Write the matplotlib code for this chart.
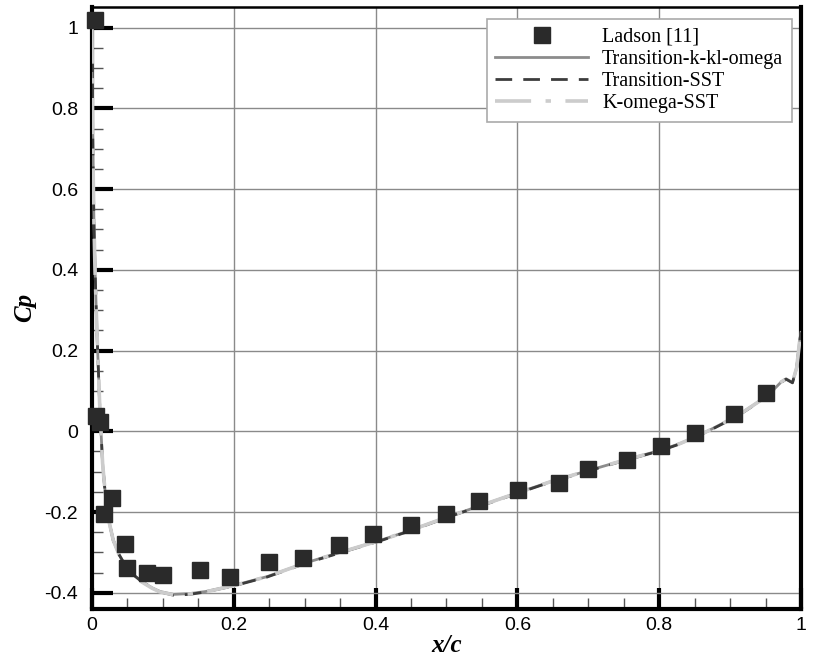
import matplotlib.pyplot as plt
import numpy as np

# experimental pressure coefficient (Ladson)
ladson_x = [0.004, 0.006, 0.012, 0.017, 0.028, 0.047, 0.05, 0.077, 0.1, 0.152, 0.194,
            0.249, 0.298, 0.348, 0.397, 0.45, 0.5, 0.546, 0.601, 0.659, 0.70,
            0.754, 0.802, 0.85, 0.905, 0.951]
ladson_cp = [1.02, 0.038, 0.022, -0.205, -0.165, -0.278, -0.339, -0.352, -0.356, -0.344, -0.362,
             -0.325, -0.315, -0.282, -0.255, -0.232, -0.206, -0.173, -0.146, -0.128, -0.094,
             -0.071, -0.037, -0.005, 0.043, 0.096]

# computed surface Cp, shared chordwise stations
xc = [0.0, 0.0005, 0.001, 0.002, 0.003, 0.004, 0.006, 0.008, 0.011, 0.015, 0.021,
      0.03, 0.038, 0.048, 0.058, 0.07, 0.085, 0.096, 0.115, 0.138, 0.16, 0.2,
      0.247, 0.303, 0.354, 0.407, 0.45, 0.5, 0.55, 0.601, 0.65, 0.689, 0.74,
      0.802, 0.83, 0.859, 0.91, 0.953, 0.972, 0.979, 0.988, 0.994, 0.998, 1.0]
cp_kkl = [1.0, 0.86, 0.74, 0.6, 0.5, 0.42, 0.3, 0.2, 0.06, -0.08, -0.2,
          -0.27, -0.305, -0.335, -0.355, -0.372, -0.388, -0.397, -0.404, -0.402, -0.397, -0.382,
          -0.36, -0.325, -0.298, -0.27, -0.245, -0.213, -0.183, -0.152, -0.123, -0.103, -0.077,
          -0.047, -0.03, -0.008, 0.038, 0.088, 0.122, 0.13, 0.121, 0.158, 0.222, 0.245]
cp_tsst = [1.0, 0.86, 0.74, 0.6, 0.5, 0.42, 0.3, 0.2, 0.06, -0.08, -0.2,
           -0.27, -0.305, -0.335, -0.355, -0.372, -0.388, -0.398, -0.406, -0.404, -0.398, -0.383,
           -0.361, -0.326, -0.299, -0.271, -0.246, -0.214, -0.184, -0.153, -0.124, -0.104, -0.078,
           -0.048, -0.031, -0.009, 0.037, 0.087, 0.121, 0.129, 0.12, 0.157, 0.221, 0.245]
cp_sst = [1.0, 0.86, 0.74, 0.6, 0.5, 0.42, 0.3, 0.2, 0.06, -0.08, -0.2,
          -0.27, -0.305, -0.335, -0.356, -0.373, -0.389, -0.398, -0.405, -0.403, -0.398, -0.382,
          -0.36, -0.325, -0.298, -0.27, -0.245, -0.213, -0.183, -0.152, -0.123, -0.103, -0.077,
          -0.047, -0.03, -0.008, 0.038, 0.088, 0.122, 0.13, 0.121, 0.158, 0.222, 0.245]

plt.rcParams['font.family'] = ['Liberation Sans', 'DejaVu Sans']

fig = plt.figure(figsize=(8.14, 6.59), dpi=100)
ax = fig.add_axes([0.113, 0.076, 0.871, 0.914])

ax.plot(xc, cp_kkl, '-', color='#8c8c8c', lw=2.0, label='Transition-k-kl-omega', zorder=3)
ax.plot(xc, cp_tsst, '--', color='#3c3c3c', lw=2.0, dashes=(6, 4), label='Transition-SST', zorder=4)
ax.plot(xc, cp_sst, '-.', color='#cccccc', lw=2.6, dashes=(10, 4, 1.5, 4),
        label='K-omega-SST', zorder=5)
ax.plot(ladson_x, ladson_cp, 's', color='#2a2a2a', ms=11, mec='#2a2a2a',
        ls='none', label='Ladson [11]', zorder=6, clip_on=False)

ax.set_xlim(0, 1)
ax.set_ylim(-0.44, 1.052)
ax.set_xticks(np.arange(0, 1.01, 0.2))
ax.set_xticklabels(['0', '0.2', '0.4', '0.6', '0.8', '1'])
ax.set_yticks(np.arange(-0.4, 1.01, 0.2))
ax.set_yticklabels(['-0.4', '-0.2', '0', '0.2', '0.4', '0.6', '0.8', '1'])
ax.set_xticks(np.arange(0, 1.001, 0.05), minor=True)
ax.set_yticks(np.arange(-0.4, 1.001, 0.05), minor=True)

ax.grid(True, which='major', color='#8a8a8a', lw=1.0)
ax.set_axisbelow(True)
ax.tick_params(which='major', direction='in', length=15, width=3, labelsize=14,
               colors='black')
ax.tick_params(axis='x', which='major', pad=6)
ax.tick_params(axis='y', which='major', pad=10)
ax.tick_params(which='minor', direction='in', length=8, width=1, color='#555555')
for side in ['left', 'bottom', 'right']:
    ax.spines[side].set_linewidth(3)
ax.spines['top'].set_linewidth(1.8)

ax.set_xlabel('x/c', family='Liberation Serif', style='italic', weight='bold',
              fontsize=18, labelpad=0)
ax.set_ylabel('Cp', family='Liberation Serif', style='italic', weight='bold',
              fontsize=18, labelpad=6)

handles, labels = ax.get_legend_handles_labels()
order = [3, 0, 1, 2]
leg = ax.legend([handles[i] for i in order], [labels[i] for i in order],
                loc='upper right', bbox_to_anchor=(0.987, 0.979),
                prop={'family': 'Liberation Serif', 'size': 14.5},
                handlelength=4.6, handletextpad=0.7, labelspacing=0.15, borderpad=0.42,
                fancybox=False, framealpha=1, edgecolor='#aaaaaa', borderaxespad=0)
leg.get_frame().set_linewidth(1.2)

fig.savefig('out.png', dpi=100)
